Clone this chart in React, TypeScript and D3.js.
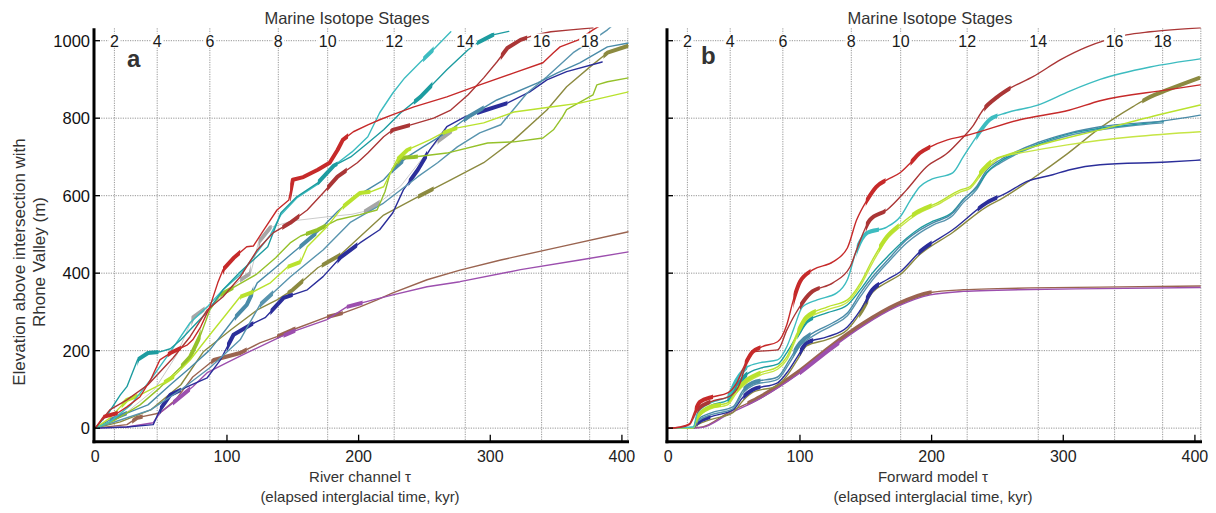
import React from "react";
import * as d3 from "d3";

type Pt = [number, number];
type Range = [number, number];
type Series = { key: string; pts: Pt[]; thick: Range[] };

// Marine isotope stage boundaries, in elapsed interglacial time (kyr)
const misBoundaries = [14.5, 47, 87, 139, 176.5, 227, 281, 339, 375.5, 404.5];
const misLabels = ["2", "4", "6", "8", "10", "12", "14", "16", "18"];
const yTicks = [0, 200, 400, 600, 800, 1000];
const xTicks = [0, 100, 200, 300, 400];

// ---- Panel a: river channel profiles (tau kyr, elevation m) ----
const aTeal: Pt[] = [[0,0],[10,39],[19,86],[24,107],[32,176],[40,194],[49,197],[57,205],[65,228],[74,261],[85,300],[97,357],[110,403],[120,434],[131,468],[141,556],[153,597],[169,633],[181,677],[194,700],[207,736],[219,770],[232,814],[247,855],[267,925],[283,976],[290,994],[302,1015],[314,1024]];
const aTealThick: Range[] = [[32,48],[169,184],[242,256],[290,303]];
const aCyan: Pt[] = [[0,0],[11,16],[27,60],[42,125],[57,197],[72,272],[85,313],[97,357],[110,396],[123,455],[133,499],[141,551],[153,594],[169,630],[182,679],[195,713],[207,752],[216,814],[226,865],[235,904],[247,945],[258,981],[270,1023]];
const aCyanThick: Range[] = [[249,257]];
const aRed: Pt[] = [[0,0],[6,29],[17,39],[24,55],[34,81],[42,125],[49,176],[57,194],[70,215],[74,228],[80,261],[87,313],[93,375],[97,409],[105,439],[115,468],[120,470],[128,512],[138,563],[147,589],[150,641],[158,648],[169,667],[178,685],[184,718],[188,744],[196,765],[207,783],[216,796],[226,809],[242,829],[267,855],[292,886],[318,917],[340,943],[348,969],[353,984],[367,1002],[378,1028],[384,1040]];
const aRedThick: Range[] = [[6,17],[55,65],[97,110],[148,192]];
const aBrick: Pt[] = [[0,0],[11,47],[24,73],[40,112],[59,181],[72,236],[85,305],[97,339],[110,390],[123,460],[135,504],[148,530],[161,563],[173,607],[184,649],[199,685],[207,710],[219,752],[226,770],[239,782],[257,800],[270,821],[283,860],[295,904],[305,945],[313,981],[323,1002],[334,1015],[346,1023],[361,1028],[378,1033]];
const aBrickThick: Range[] = [[142,155],[176,191],[224,239],[308,328]];
const aGray: Pt[] = [[0,0],[20,30],[45,100],[62,190],[74,285],[82,305],[95,335],[110,382],[118,400],[124,480],[133,518],[150,535],[175,545],[195,552],[205,560],[216,583],[232,625],[247,690],[260,740],[271,768]];
const aGrayThick: Range[] = [[73,83],[110,118],[124,134],[204,216],[260,271]];
const aSteelA: Pt[] = [[0,0],[11,21],[24,39],[40,60],[57,112],[72,156],[87,202],[99,254],[106,285],[115,318],[123,375],[135,409],[148,447],[169,507],[184,559],[194,589],[219,641],[226,667],[237,700],[249,726],[270,770],[283,803],[305,847],[318,865],[336,891],[351,917],[368,943],[389,984],[405,994]];
const aSteelAThick: Range[] = [[11,24],[106,120],[155,168],[225,234],[280,295]];
const aSteelB: Pt[] = [[0,0],[19,21],[42,47],[65,99],[87,156],[110,228],[125,318],[148,390],[173,460],[194,532],[219,581],[245,649],[260,685],[275,726],[292,762],[308,783],[328,865],[343,907],[363,969],[378,1002],[389,1028],[393,1040]];
const aSteelBThick: Range[] = [[125,135]];
const aDblue: Pt[] = [[0,0],[24,3],[44,9],[49,47],[57,86],[70,107],[85,130],[95,176],[105,241],[118,267],[129,285],[143,336],[161,357],[173,391],[186,440],[201,478],[216,512],[226,556],[234,615],[245,667],[254,718],[267,778],[281,804],[292,816],[313,839],[330,868],[343,899],[358,920],[385,945]];
const aDblueThick: Range[] = [[49,65],[100,120],[133,150],[184,199],[238,252],[290,313]];
const aOlive: Pt[] = [[0,0],[19,16],[42,47],[65,112],[82,197],[103,254],[123,305],[138,331],[150,357],[169,414],[186,447],[201,494],[219,550],[245,597],[270,641],[295,685],[318,744],[343,821],[358,881],[376,933],[389,969],[405,987]];
const aOliveThick: Range[] = [[146,158],[172,186],[245,257],[386,405]];
const aLime: Pt[] = [[0,0],[11,26],[24,73],[34,86],[52,117],[59,132],[72,176],[87,241],[99,292],[110,339],[120,352],[133,375],[146,416],[156,429],[161,468],[176,520],[188,571],[201,607],[209,610],[219,623],[229,692],[237,718],[254,744],[264,762],[275,775],[295,788],[318,816],[346,829],[368,839],[405,868]];
const aLimeThick: Range[] = [[20,32],[52,60],[110,120],[146,156],[188,209],[229,240],[264,275]];
const aOgreen: Pt[] = [[0,0],[15,21],[34,60],[49,104],[65,158],[72,184],[80,241],[87,305],[95,344],[106,365],[122,396],[137,440],[148,478],[156,496],[169,512],[184,538],[201,551],[214,563],[220,610],[224,659],[232,698],[242,700],[267,710],[298,736],[318,739],[340,749],[348,770],[355,804],[358,822],[378,860],[381,886],[389,894],[405,904]];
const aOgreenThick: Range[] = [[65,80],[95,105],[160,175],[230,245]];
const aBrown: Pt[] = [[0,0],[24,9],[32,27],[49,39],[61,73],[74,132],[90,176],[110,194],[125,220],[138,236],[150,254],[176,287],[188,297],[201,313],[214,331],[226,349],[252,383],[277,408],[308,434],[353,468],[405,507]];
const aBrownThick: Range[] = [[28,36],[88,115],[138,152],[176,188]];
const aPurple: Pt[] = [[0,0],[24,3],[44,14],[49,39],[59,65],[74,107],[85,143],[100,169],[115,194],[141,236],[150,249],[176,280],[191,313],[211,331],[226,344],[252,365],[277,378],[323,409],[368,434],[405,455]];
const aPurpleThick: Range[] = [[59,72],[143,152],[191,203]];

// ---- Panel b: forward model profiles ----
const bRed: Pt[] = [[0,0],[9,3],[16,11],[20,42],[24,68],[34,81],[45,91],[52,117],[58,163],[64,197],[71,210],[83,223],[90,267],[95,331],[100,378],[110,409],[125,429],[136,465],[143,537],[151,589],[158,623],[166,641],[176,659],[184,685],[191,710],[199,726],[212,744],[225,754],[267,796],[305,821],[328,845],[379,873],[404,886]];
const bRedThick: Range[] = [[20,34],[58,70],[95,108],[150,165],[184,199]];
const bBrick: Pt[] = [[0,0],[9,2],[16,9],[22,47],[32,68],[47,83],[54,112],[60,176],[64,197],[83,202],[90,253],[96,292],[108,349],[125,375],[138,416],[143,460],[153,537],[166,563],[181,615],[196,674],[212,710],[222,744],[231,778],[239,821],[250,855],[260,878],[277,907],[298,951],[318,984],[333,1002],[348,1015],[366,1023],[404,1033]];
const bBrickThick: Range[] = [[22,32],[100,115],[150,165],[240,260]];
const bCyan: Pt[] = [[0,0],[9,1],[19,3],[22,39],[32,65],[45,81],[52,125],[60,158],[70,169],[83,176],[90,210],[95,254],[102,313],[113,331],[128,349],[136,383],[143,460],[151,504],[166,519],[176,545],[184,589],[191,623],[199,641],[216,659],[224,700],[234,752],[244,796],[257,814],[280,833],[305,870],[328,900],[366,932],[404,953]];
const bCyanThick: Range[] = [[45,60],[143,160],[234,250]];
const bTeal: Pt[] = [[0,0],[19,2],[22,30],[32,58],[45,72],[52,108],[60,140],[70,155],[83,165],[90,195],[98,240],[105,275],[121,298],[136,318],[146,358],[155,400],[168,448],[181,490],[191,516],[201,534],[216,558],[224,590],[234,620],[242,660],[252,688],[262,706],[280,732],[305,760],[328,774],[350,782],[376,792]];
const bTealThick: Range[] = [[45,60],[98,110]];
const bLime: Pt[] = [[0,0],[9,1],[19,1],[22,29],[32,55],[45,65],[52,99],[60,125],[70,143],[83,158],[90,184],[98,246],[105,287],[121,313],[136,331],[146,375],[155,434],[166,494],[176,525],[189,558],[204,581],[222,615],[229,623],[239,667],[247,692],[257,705],[277,726],[328,770],[379,814],[404,834]];
const bLimeThick: Range[] = [[22,40],[52,70],[98,112],[160,175],[185,200],[236,245]];
const bYellow: Pt[] = [[0,0],[19,1],[22,25],[32,50],[45,60],[52,92],[60,118],[70,137],[83,152],[90,176],[98,238],[105,280],[121,306],[136,325],[146,368],[155,426],[166,487],[176,519],[189,552],[204,576],[222,610],[229,618],[239,660],[247,686],[252,698],[272,713],[303,731],[353,752],[404,765]];
const bYellowThick: Range[] = [];
const bSteel1: Pt[] = [[0,0],[19,0],[22,21],[32,39],[49,55],[57,99],[64,117],[83,132],[92,176],[100,220],[110,246],[125,272],[136,297],[146,349],[155,390],[168,439],[181,486],[191,511],[201,530],[216,555],[224,589],[234,623],[242,667],[252,692],[262,710],[280,736],[305,762],[328,778],[376,793],[404,808]];
const bSteel1Thick: Range[] = [[57,70],[95,108]];
const bSteel2: Pt[] = [[0,0],[19,0],[22,17],[32,34],[49,50],[57,92],[64,110],[83,126],[92,168],[100,212],[110,238],[125,266],[136,290],[146,340],[155,382],[168,432],[181,478],[191,504],[201,524],[216,549],[224,582],[234,615],[242,659],[252,684],[262,703],[280,729],[305,756],[328,770],[350,780],[376,788]];
const bSteel2Thick: Range[] = [];
const bDblue: Pt[] = [[0,0],[19,0],[22,13],[32,29],[49,47],[57,81],[64,99],[83,117],[90,143],[98,184],[105,220],[121,236],[136,261],[146,305],[155,357],[166,383],[176,403],[191,455],[216,512],[242,582],[257,607],[272,636],[292,654],[305,667],[328,680],[379,687],[404,692]];
const bDblueThick: Range[] = [[22,32],[57,70],[100,110],[150,160],[190,200],[235,250]];
const bOlive: Pt[] = [[0,0],[19,0],[22,8],[32,22],[49,40],[57,72],[64,92],[83,110],[90,135],[98,176],[105,212],[121,229],[136,254],[146,298],[155,350],[166,376],[176,396],[191,448],[216,505],[242,572],[252,590],[277,645],[303,708],[328,775],[353,830],[366,855],[379,873],[404,905]];
const bOliveThick: Range[] = [[145,152],[360,404]];
const bBrown: Pt[] = [[0,0],[19,1],[26,3],[45,39],[70,81],[98,143],[123,210],[148,270],[174,320],[199,350],[224,357],[250,360],[275,362],[328,364],[404,367]];
const bBrownThick: Range[] = [[60,200]];
const bPurple: Pt[] = [[0,0],[19,0],[26,2],[45,35],[70,77],[98,138],[123,204],[148,264],[174,314],[199,344],[224,353],[250,356],[275,358],[328,360],[404,363]];
const bPurpleThick: Range[] = [[100,130]];

// line colours
const colors: Record<string, string> = {
  red: "#c62a2a",
  brick: "#aa3636",
  cyan: "#3dbcc0",
  teal: "#1d9ca0",
  lime: "#b9e22e",
  ogreen: "#95c12a",
  yellow: "#c6e545",
  steelA: "#4a8ba8",
  steelB: "#5894ae",
  dblue: "#2b2e9a",
  olive: "#8c8a40",
  brown: "#9a6450",
  purple: "#9c4fae",
  gray: "#a6a6a6",
};
// thin-line width per profile (the grey profile is mostly hidden beneath the others)
const thinWidth: Record<string, number> = { gray: 0.6 };

const seriesA: Series[] = [
  { key: "gray", pts: aGray, thick: aGrayThick },
  { key: "brown", pts: aBrown, thick: aBrownThick },
  { key: "purple", pts: aPurple, thick: aPurpleThick },
  { key: "olive", pts: aOlive, thick: aOliveThick },
  { key: "dblue", pts: aDblue, thick: aDblueThick },
  { key: "steelB", pts: aSteelB, thick: aSteelBThick },
  { key: "steelA", pts: aSteelA, thick: aSteelAThick },
  { key: "ogreen", pts: aOgreen, thick: aOgreenThick },
  { key: "lime", pts: aLime, thick: aLimeThick },
  { key: "cyan", pts: aCyan, thick: aCyanThick },
  { key: "teal", pts: aTeal, thick: aTealThick },
  { key: "brick", pts: aBrick, thick: aBrickThick },
  { key: "red", pts: aRed, thick: aRedThick },
];

const seriesB: Series[] = [
  { key: "brown", pts: bBrown, thick: bBrownThick },
  { key: "purple", pts: bPurple, thick: bPurpleThick },
  { key: "olive", pts: bOlive, thick: bOliveThick },
  { key: "dblue", pts: bDblue, thick: bDblueThick },
  { key: "steelB", pts: bSteel2, thick: bSteel2Thick },
  { key: "teal", pts: bTeal, thick: bTealThick },
  { key: "steelA", pts: bSteel1, thick: bSteel1Thick },
  { key: "yellow", pts: bYellow, thick: bYellowThick },
  { key: "lime", pts: bLime, thick: bLimeThick },
  { key: "cyan", pts: bCyan, thick: bCyanThick },
  { key: "brick", pts: bBrick, thick: bBrickThick },
  { key: "red", pts: bRed, thick: bRedThick },
];

const FONT = "'Liberation Sans', Arial, Helvetica, sans-serif";
const GRID = "#969696";

type PanelProps = {
  id: string;
  left: number;
  right: number;
  series: Series[];
  curve: d3.CurveFactory;
  letter: string;
  letterX: number;
  letterY: number;
  xTitle: string;
  titleX: number;
  stageTitleX: number;
  showYLabels: boolean;
};

function Panel(p: PanelProps) {
  const x = d3.scaleLinear().domain([-1, 405]).range([p.left, p.right]);
  const y = d3.scaleLinear().domain([-35, 1032]).range([441.7, 28.3]);
  const line = d3.line<Pt>().x((d) => x(d[0])).y((d) => y(d[1])).curve(p.curve);
  const top = y(1032);
  const bottom = y(-35);
  const x0 = x(-1);
  const xEnd = x(405);

  return (
    <g>
      <defs>
        <clipPath id={`${p.id}-plot`}>
          <rect x={x0} y={top - 1} width={xEnd - x0} height={bottom - top + 1} />
        </clipPath>
        {p.series.map((s) => (
          <clipPath id={`${p.id}-${s.key}-thick`} key={s.key}>
            {s.thick.map(([t0, t1], i) => (
              <rect key={i} x={x(t0)} y={0} width={x(t1) - x(t0)} height={513} />
            ))}
          </clipPath>
        ))}
      </defs>

      {/* dotted grid: elevation lines and stage boundaries */}
      {yTicks.map((v) => (
        <line key={`h${v}`} x1={x0} x2={xEnd} y1={y(v)} y2={y(v)} stroke={GRID} strokeWidth={1} strokeDasharray="1.2 1.2" />
      ))}
      {misBoundaries.map((b) => (
        <line key={`v${b}`} x1={x(b)} x2={x(b)} y1={top} y2={bottom} stroke={GRID} strokeWidth={1} strokeDasharray="1.2 1.2" />
      ))}

      {/* profiles */}
      <g clipPath={`url(#${p.id}-plot)`}>
        {p.series.map((s) => {
          const d = line(s.pts) || "";
          return (
            <g key={s.key}>
              <path d={d} fill="none" stroke={colors[s.key]} strokeWidth={thinWidth[s.key] ?? 1.4} strokeLinejoin="round" strokeLinecap="round" />
              {s.thick.length > 0 && (
                <path d={d} fill="none" stroke={colors[s.key]} strokeWidth={4} strokeLinejoin="round" clipPath={`url(#${p.id}-${s.key}-thick)`} />
              )}
            </g>
          );
        })}
      </g>

      {/* stage labels along the top */}
      {misLabels.map((lab, i) => {
        const cx = x(misBoundaries[i]);
        const w = lab.length * 9 + 3;
        return (
          <g key={lab}>
            <rect x={cx - w / 2} y={33.5} width={w} height={14} fill="#fff" />
            <text x={cx} y={46.5} textAnchor="middle" fontSize={16} fontFamily={FONT} fill="#1a1a1a">
              {lab}
            </text>
          </g>
        );
      })}
      <text x={p.stageTitleX} y={23.5} textAnchor="middle" fontSize={16.5} fontFamily={FONT} fill="#333">
        Marine Isotope Stages
      </text>

      {/* axes */}
      <line x1={x0} x2={x0} y1={top} y2={bottom + 1.5} stroke="#000" strokeWidth={3} />
      <line x1={x0 - 1.5} x2={xEnd + 0.5} y1={bottom} y2={bottom} stroke="#000" strokeWidth={3} />
      {yTicks.map((v) => (
        <line key={`yt${v}`} x1={x0} x2={x0 + 6} y1={y(v)} y2={y(v)} stroke="#000" strokeWidth={1.3} />
      ))}
      {xTicks.slice(1).map((v) => (
        <line key={`xt${v}`} x1={x(v)} x2={x(v)} y1={bottom} y2={bottom - 7} stroke="#000" strokeWidth={1.3} />
      ))}
      {p.showYLabels &&
        yTicks.map((v) => (
          <text key={`yl${v}`} x={x0 - 4} y={y(v) + 6} textAnchor="end" fontSize={16.5} fontFamily={FONT} fill="#111">
            {v}
          </text>
        ))}
      {xTicks.map((v) => (
        <text key={`xl${v}`} x={x(v)} y={462} textAnchor="middle" fontSize={16} fontFamily={FONT} fill="#222">
          {v}
        </text>
      ))}
      <text x={p.titleX} y={482} textAnchor="middle" fontSize={15} fontFamily={FONT} fill="#333">
        {p.xTitle}
      </text>
      <text x={p.titleX} y={502} textAnchor="middle" fontSize={15} fontFamily={FONT} fill="#333">
        (elapsed interglacial time, kyr)
      </text>
      <text x={p.letterX} y={p.letterY} fontSize={24} fontWeight="bold" fontFamily={FONT} fill="#333">
        {p.letter}
      </text>
    </g>
  );
}

export default function App() {
  return (
    <svg
      width={1216}
      height={513}
      viewBox="0 0 1216 513"
      style={{ position: "absolute", left: 0, top: 0, background: "#fff" }}
    >
      <rect width={1216} height={513} fill="#fff" />
      <g fontFamily={FONT}>
        <text transform="translate(25,262) rotate(-90)" textAnchor="middle" fontSize={17} fill="#333">
          Elevation above intersection with
        </text>
        <text transform="translate(45,262) rotate(-90)" textAnchor="middle" fontSize={17} fill="#333">
          Rhone Valley (m)
        </text>
      </g>
      <Panel
        id="pa"
        left={94}
        right={628.5}
        series={seriesA}
        curve={d3.curveLinear}
        letter="a"
        letterX={127}
        letterY={67}
        xTitle="River channel τ"
        titleX={360}
        stageTitleX={347}
        showYLabels={true}
      />
      <Panel
        id="pb"
        left={667}
        right={1201.5}
        series={seriesB}
        curve={d3.curveMonotoneX}
        letter="b"
        letterX={701}
        letterY={64}
        xTitle="Forward model τ"
        titleX={933}
        stageTitleX={930}
        showYLabels={false}
      />
    </svg>
  );
}
